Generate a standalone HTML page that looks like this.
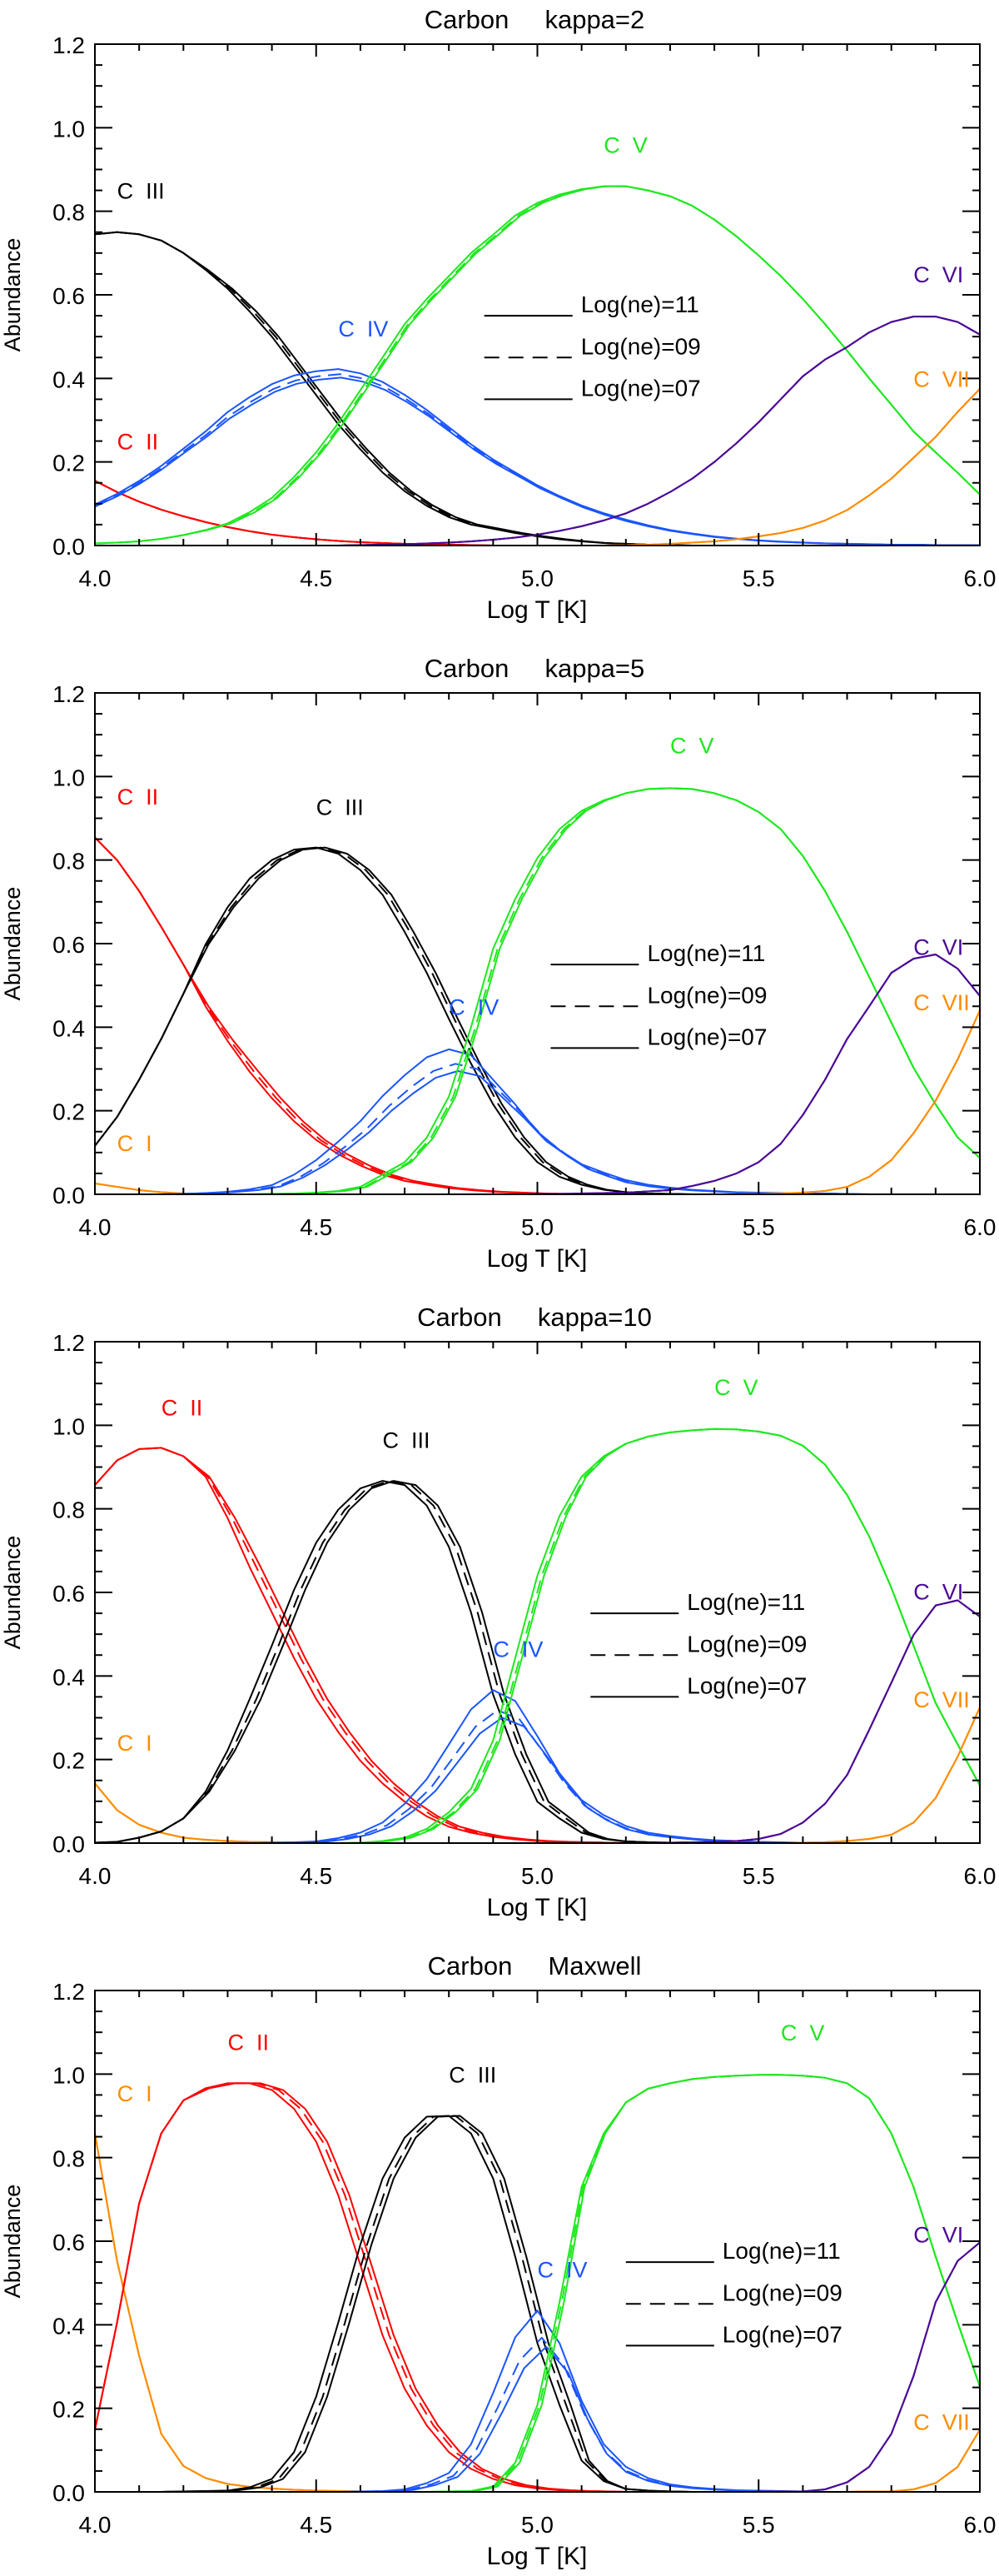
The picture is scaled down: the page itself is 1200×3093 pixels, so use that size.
<!DOCTYPE html>
<html><head><meta charset="utf-8"><style>
html,body{margin:0;padding:0;background:#fff;}
svg{display:block;font-family:"Liberation Sans","DejaVu Sans",sans-serif;}
text{white-space:pre;}
</style></head><body>
<svg id="fig" width="1200" height="3093" viewBox="0 0 1200 3093" xmlns="http://www.w3.org/2000/svg"></svg>
<script>
// ---- shared axis data ----
const xTicks = [4.0, 4.5, 5.0, 5.5, 6.0];
const xTickLabels = ["4.0", "4.5", "5.0", "5.5", "6.0"];
const yTicks = [0.0, 0.2, 0.4, 0.6, 0.8, 1.0, 1.2];
const yTickLabels = ["0.0", "0.2", "0.4", "0.6", "0.8", "1.0", "1.2"];
const densityLabels = ["Log(ne)=11", "Log(ne)=09", "Log(ne)=07"];
const panelTitles = ["Carbon     kappa=2", "Carbon     kappa=5", "Carbon     kappa=10", "Carbon     Maxwell"];
const ionNames = ["C  I", "C  II", "C  III", "C  IV", "C  V", "C  VI", "C  VII"];
const ionColors = ["#ff8c00", "#ff0000", "#000000", "#1a55ff", "#1ee81e", "#4b0a96", "#ff8c00"];
// logT grid 4.00 .. 6.00 step 0.05 (41 points)
const logT = [4.00,4.05,4.10,4.15,4.20,4.25,4.30,4.35,4.40,4.45,4.50,4.55,4.60,4.65,4.70,4.75,4.80,4.85,4.90,4.95,5.00,5.05,5.10,5.15,5.20,5.25,5.30,5.35,5.40,5.45,5.50,5.55,5.60,5.65,5.70,5.75,5.80,5.85,5.90,5.95,6.00];

// ---- panel 1: kappa=2 ----
const k2_CII  = [.155,.128,.105,.086,.07,.056,.044,.034,.026,.02,.015,.011,.008,.006,.004,.003,.002,.001,0,0,0,0,0,0,0,0,0,0,0,0,0,0,0,0,0,0,0,0,0,0,0];
const k2_CIII = [.745,.75,.745,.73,.70,.66,.615,.56,.50,.43,.36,.29,.23,.175,.13,.095,.068,.05,.04,.03,.022,.015,.01,.006,.004,.002,.001,0,0,0,0,0,0,0,0,0,0,0,0,0,0];
const k2_CIV  = [.095,.12,.15,.185,.225,.265,.31,.345,.375,.395,.405,.41,.40,.38,.35,.315,.275,.235,.2,.17,.14,.115,.093,.075,.06,.047,.036,.028,.021,.016,.012,.009,.007,.005,.004,.003,.002,.002,.001,.001,.001];
const k2_CV   = [.005,.007,.01,.016,.025,.037,.053,.08,.114,.164,.223,.293,.372,.45,.53,.59,.645,.70,.744,.79,.82,.84,.853,.86,.86,.85,.836,.813,.78,.74,.694,.645,.59,.53,.466,.40,.337,.273,.223,.174,.122];
const k2_CVI  = [0,0,0,0,0,0,0,0,0,0,0,0,.001,.002,.003,.005,.007,.01,.014,.019,.026,.035,.046,.06,.077,.1,.128,.16,.2,.245,.295,.35,.405,.445,.475,.51,.535,.548,.548,.535,.505];
const k2_CVII = [0,0,0,0,0,0,0,0,0,0,0,0,0,0,0,0,0,0,0,0,0,0,0,0,.001,.002,.004,.007,.01,.015,.022,.03,.042,.06,.085,.12,.16,.21,.26,.32,.375];

// ---- panel 2: kappa=5 ----
const k5_CI   = [.026,.018,.01,.005,.002,.001,0,0,0,0,0,0,0,0,0,0,0,0,0,0,0,0,0,0,0,0,0,0,0,0,0,0,0,0,0,0,0,0,0,0,0];
const k5_CII  = [.854,.80,.726,.64,.55,.45,.367,.293,.23,.175,.13,.096,.069,.047,.032,.023,.015,.01,.006,.004,.002,.001,0,0,0,0,0,0,0,0,0,0,0,0,0,0,0,0,0,0,0];
const k5_CIII = [.116,.185,.274,.372,.48,.598,.687,.756,.80,.825,.83,.815,.776,.717,.628,.53,.42,.313,.215,.136,.077,.042,.023,.011,.005,.002,.001,0,0,0,0,0,0,0,0,0,0,0,0,0,0];
const k5_CIV  = [0,0,0,0,.001,.003,.006,.012,.022,.047,.082,.126,.175,.235,.285,.328,.347,.333,.274,.215,.15,.106,.072,.052,.034,.023,.016,.011,.008,.005,.004,.003,.002,.002,.001,0,0,0,0,0,0];
const k5_CV   = [0,0,0,0,0,0,0,0,.001,.002,.004,.008,.018,.047,.077,.136,.234,.40,.588,.707,.805,.874,.918,.943,.96,.97,.972,.97,.96,.943,.915,.874,.81,.726,.628,.52,.411,.303,.215,.136,.087];
const k5_CVI  = [0,0,0,0,0,0,0,0,0,0,0,0,0,0,0,0,0,0,0,0,.001,.001,.002,.003,.004,.007,.01,.02,.032,.05,.077,.121,.19,.274,.372,.45,.53,.564,.574,.54,.475];
const k5_CVII = [0,0,0,0,0,0,0,0,0,0,0,0,0,0,0,0,0,0,0,0,0,0,0,0,0,0,0,0,0,0,.001,.002,.004,.008,.018,.042,.082,.146,.224,.323,.44];

// ---- panel 3: kappa=10 ----
const k10_CI   = [.143,.079,.044,.025,.013,.008,.005,.003,.002,.001,0,0,0,0,0,0,0,0,0,0,0,0,0,0,0,0,0,0,0,0,0,0,0,0,0,0,0,0,0,0,0];
const k10_CII  = [.857,.916,.943,.946,.926,.877,.778,.66,.552,.443,.345,.266,.197,.143,.099,.064,.039,.025,.015,.009,.005,.003,.002,.001,0,0,0,0,0,0,0,0,0,0,0,0,0,0,0,0,0];
const k10_CIII = [.001,.003,.013,.028,.059,.123,.222,.345,.473,.606,.719,.798,.849,.867,.857,.808,.709,.552,.355,.212,.099,.059,.025,.01,.004,.002,.001,0,0,0,0,0,0,0,0,0,0,0,0,0,0];
const k10_CIV  = [0,0,0,0,0,0,0,0,.001,.002,.004,.012,.025,.049,.094,.153,.236,.32,.366,.34,.256,.167,.103,.067,.041,.025,.017,.011,.007,.005,.003,.002,.001,0,0,0,0,0,0,0,0];
const k10_CV   = [0,0,0,0,0,0,0,0,0,0,0,0,.001,.005,.013,.034,.074,.13,.246,.443,.64,.783,.877,.926,.956,.973,.983,.988,.991,.99,.985,.975,.951,.906,.833,.734,.611,.473,.335,.236,.138];
const k10_CVI  = [0,0,0,0,0,0,0,0,0,0,0,0,0,0,0,0,0,0,0,0,0,0,0,0,0,0,.001,.002,.003,.005,.01,.022,.049,.094,.163,.271,.384,.498,.569,.581,.542];
const k10_CVII = [0,0,0,0,0,0,0,0,0,0,0,0,0,0,0,0,0,0,0,0,0,0,0,0,0,0,0,0,0,0,0,0,.001,.002,.005,.01,.02,.049,.108,.207,.325];

// ---- panel 4: Maxwell ----
const mx_CI   = [.858,.553,.326,.139,.062,.033,.019,.012,.008,.005,.003,.002,.001,0,0,0,0,0,0,0,0,0,0,0,0,0,0,0,0,0,0,0,0,0,0,0,0,0,0,0,0];
const mx_CII  = [.149,.405,.69,.858,.937,.966,.978,.978,.962,.917,.838,.71,.543,.375,.247,.159,.095,.055,.031,.016,.008,.004,.002,.001,0,0,0,0,0,0,0,0,0,0,0,0,0,0,0,0,0];
const mx_CIII = [0,0,0,0,.001,.002,.003,.011,.031,.095,.228,.405,.592,.75,.848,.898,.90,.858,.75,.563,.356,.208,.075,.026,.007,.003,.001,0,0,0,0,0,0,0,0,0,0,0,0,0,0];
const mx_CIV  = [0,0,0,0,0,0,0,0,0,0,0,0,.001,.002,.006,.021,.045,.114,.237,.37,.434,.356,.218,.114,.06,.033,.018,.011,.007,.004,.003,.002,.001,0,0,0,0,0,0,0,0];
const mx_CV   = [0,0,0,0,0,0,0,0,0,0,0,0,0,0,0,0,.001,.002,.013,.07,.208,.454,.73,.858,.932,.965,.978,.988,.993,.996,.998,.998,.996,.991,.978,.942,.858,.73,.563,.405,.252];
const mx_CVI  = [0,0,0,0,0,0,0,0,0,0,0,0,0,0,0,0,0,0,0,0,0,0,0,0,0,0,0,0,0,0,0,.001,.001,.006,.023,.06,.139,.277,.454,.553,.597];
const mx_CVII = [0,0,0,0,0,0,0,0,0,0,0,0,0,0,0,0,0,0,0,0,0,0,0,0,0,0,0,0,0,0,0,0,0,0,0,.001,.001,.006,.021,.06,.149];

// per-density logT shifts and amplitude factors [ne=11, ne=09, ne=07] per ion (I..VII)
const k2_dx   = [[0,0,0],[0,0,0],[0,.008,.015],[0,.004,.006],[0,.008,.012],[0,0,0],[0,0,0]];
const k2_amp  = [[1,1,1],[1,1,1],[1,1,1],[1.03,1,.98],[1,1,1],[1,1,1],[1,1,1]];
const k5_dx   = [[0,0,0],[0,.01,.02],[0,.012,.02],[0,.015,.02],[0,.01,.015],[0,0,0],[0,0,0]];
const k5_amp  = [[1,1,1],[1,1,1],[1,1,1],[1,.9,.85],[1,1,1],[1,1,1],[1,1,1]];
const k10_dx  = [[0,0,0],[0,.015,.025],[0,.015,.025],[0,.01,.02],[0,.01,.015],[0,0,0],[0,0,0]];
const k10_amp = [[1,1,1],[1,1,1],[1,1,1],[1,.87,.82],[1,1,1],[1,1,1],[1,1,1]];
const mx_dx   = [[0,0,0],[0,.015,.025],[0,.015,.025],[0,.01,.02],[0,.005,.01],[0,0,0],[0,0,0]];
const mx_amp  = [[1,1,1],[1,1,1],[1,1,1],[1,.85,.8],[1,1,1],[1,1,1],[1,1,1]];
// logT window where density splitting applies [start, full-on, full-off, end]
const splitWindow = [4.2, 4.35, 5.05, 5.2];

// ion label positions (logT, abundance) for each panel, null = absent
const k2_labelX  = [null, 4.05, 4.05, 4.55, 5.15, 5.85, 5.85];
const k2_labelY  = [null, 0.25, 0.85, 0.52, 0.96, 0.65, 0.40];
const k5_labelX  = [4.05, 4.05, 4.50, 4.80, 5.30, 5.85, 5.85];
const k5_labelY  = [0.124, 0.953, 0.928, 0.45, 1.075, 0.593, 0.46];
const k10_labelX = [4.05, 4.15, 4.65, 4.90, 5.40, 5.85, 5.85];
const k10_labelY = [0.241, 1.044, 0.966, 0.465, 1.092, 0.603, 0.345];
const mx_labelX  = [4.05, 4.30, 4.80, 5.00, 5.55, 5.85, 5.85];
const mx_labelY  = [0.955, 1.077, 1.0, 0.533, 1.10, 0.617, 0.168];
const legendX = [4.88, 5.03, 5.12, 5.20];
const legendY = [0.55, 0.45, 0.35];

const panels = [
  {series:[null,k2_CII,k2_CIII,k2_CIV,k2_CV,k2_CVI,k2_CVII], dx:k2_dx, amp:k2_amp, lx:k2_labelX, ly:k2_labelY},
  {series:[k5_CI,k5_CII,k5_CIII,k5_CIV,k5_CV,k5_CVI,k5_CVII], dx:k5_dx, amp:k5_amp, lx:k5_labelX, ly:k5_labelY},
  {series:[k10_CI,k10_CII,k10_CIII,k10_CIV,k10_CV,k10_CVI,k10_CVII], dx:k10_dx, amp:k10_amp, lx:k10_labelX, ly:k10_labelY},
  {series:[mx_CI,mx_CII,mx_CIII,mx_CIV,mx_CV,mx_CVI,mx_CVII], dx:mx_dx, amp:mx_amp, lx:mx_labelX, ly:mx_labelY}
];

const NS = "http://www.w3.org/2000/svg";
const svg = document.getElementById("fig");
const L = 114, R = 1177, H = 602;
function mk(tag, attrs, parent){
  const e = document.createElementNS(NS, tag);
  for (const k in attrs) e.setAttribute(k, attrs[k]);
  parent.appendChild(e);
  return e;
}
function splitWeight(t){
  const [a,b,c,d] = splitWindow;
  if (t <= a || t >= d) return 0;
  if (t < b) return (t - a) / (b - a);
  if (t > c) return (d - t) / (d - c);
  return 1;
}

panels.forEach((p, pi) => {
  const top = 53 + 779 * pi, bot = top + H;
  const xs = v => L + (v - 4) / 2 * (R - L);
  const ys = v => bot - v / 1.2 * H;
  const g = mk("g", {}, svg);
  
  

  const title = mk("text", {x: 642, y: top - 19, "font-size": 31, "text-anchor": "middle", fill: "#000"}, g);
  title.textContent = panelTitles[pi];
  
  

  const cp = mk("clipPath", {id: "clip" + pi}, g);
  mk("rect", {x: L, y: top, width: R - L, height: H}, cp);

  const curves = mk("g", {"clip-path": "url(#clip" + pi + ")", fill: "none", "stroke-width": 2, "stroke-linejoin": "round"}, g);
  
  
  p.series.forEach((ser, si) => {
    if (!ser) return;
    for (let d = 2; d >= 0; d--) {
      const pts = ser.map((v, i) => {
        const w = splitWeight(logT[i]);
        const a = 1 + (p.amp[si][d] - 1) * (si === 3 ? 1 : w);
        const x = logT[i] + p.dx[si][d] * w;
        return xs(x).toFixed(1) + "," + ys(v * a).toFixed(1);
      }).join(" ");
      const pl = mk("polyline", {points: pts, stroke: ionColors[si]}, curves);
      if (d === 1) pl.setAttribute("stroke-dasharray", "16,9");
      
      
    }
  });

  const fr = mk("rect", {x: L, y: top, width: R - L, height: H, fill: "none", stroke: "#000", "stroke-width": 2}, g);
  
  

  for (let k = 0; k <= 20; k++) {
    const v = 4 + k * 0.1, x = xs(v), len = (k % 5 === 0) ? 15 : 8;
    mk("line", {x1: x, y1: bot, x2: x, y2: bot - len, stroke: "#000", "stroke-width": 2}, g);
    mk("line", {x1: x, y1: top, x2: x, y2: top + len, stroke: "#000", "stroke-width": 2}, g);
  }
  xTicks.forEach((v, i) => {
    const t = mk("text", {x: xs(v), y: bot + 49, "font-size": 28, "text-anchor": "middle"}, g);
    t.textContent = xTickLabels[i];
    
    
  });
  for (let k = 0; k <= 24; k++) {
    const v = k * 0.05, y = ys(v), len = (k % 4 === 0) ? 21 : 9;
    mk("line", {x1: L, y1: y, x2: L + len, y2: y, stroke: "#000", "stroke-width": 2}, g);
    mk("line", {x1: R, y1: y, x2: R - len, y2: y, stroke: "#000", "stroke-width": 2}, g);
  }
  yTicks.forEach((v, i) => {
    const t = mk("text", {x: 102, y: ys(v) + 11, "font-size": 28, "text-anchor": "end"}, g);
    t.textContent = yTickLabels[i];
    
    
  });
  const xt = mk("text", {x: 645, y: bot + 87, "font-size": 30, "text-anchor": "middle"}, g);
  xt.textContent = "Log T [K]";
  
  
  const yt = mk("text", {x: 24, y: (top + bot) / 2, "font-size": 27, "text-anchor": "middle", transform: "rotate(-90 24 " + (top + bot) / 2 + ")"}, g);
  yt.textContent = "Abundance";
  
  

  p.lx.forEach((lx, si) => {
    if (lx === null) return;
    const t = mk("text", {x: xs(lx), y: ys(p.ly[si]) + 10, "font-size": 27, fill: ionColors[si]}, g);
    t.textContent = ionNames[si];
    
    
  });

  const lg = mk("g", {}, g);
  
  
  densityLabels.forEach((lab, d) => {
    const x0 = xs(legendX[pi]), y = ys(legendY[d]);
    const ln = mk("line", {x1: x0, y1: y, x2: x0 + 106, y2: y, stroke: "#000", "stroke-width": 2}, lg);
    if (d === 1) ln.setAttribute("stroke-dasharray", "18,11");
    
    
    const t = mk("text", {x: x0 + 116, y: y - 4, "font-size": 28}, lg);
    t.textContent = lab;
    
    
  });
});
</script>
</body></html>
